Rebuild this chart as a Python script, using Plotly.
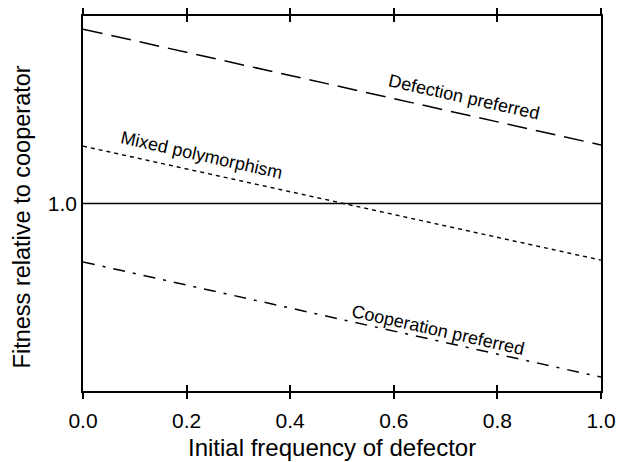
import plotly.graph_objects as go

x_ends = [0.0, 1.0]
defection = [1.465, 1.156]
mixed = [1.153, 0.849]
cooperation = [0.844, 0.537]
baseline = [1.0, 1.0]

x_ticks = [0.0, 0.2, 0.4, 0.6, 0.8, 1.0]
x_ticklabels = ["0.0", "0.2", "0.4", "0.6", "0.8", "1.0"]
y_ticks = [1.0]
y_ticklabels = ["1.0"]

labels = ["Defection preferred", "Mixed polymorphism", "Cooperation preferred"]
label_x = [0.735, 0.228, 0.685]
label_y = [1.284, 1.129, 0.663]

x_title = "Initial frequency of defector"
y_title = "Fitness relative to cooperator"

FONT = "Liberation Sans, Arial, sans-serif"
BODY = 8  # default page body margin

fig = go.Figure()
fig.add_trace(go.Scatter(x=x_ends, y=baseline, mode="lines",
                         line=dict(color="black", width=1.6), showlegend=False))
fig.add_trace(go.Scatter(x=x_ends, y=defection, mode="lines",
                         line=dict(color="black", width=1.5, dash="20px,9px"), showlegend=False))
fig.add_trace(go.Scatter(x=x_ends, y=mixed, mode="lines",
                         line=dict(color="black", width=1.4, dash="4px,4px"), showlegend=False))
fig.add_trace(go.Scatter(x=x_ends, y=cooperation, mode="lines",
                         line=dict(color="black", width=1.5, dash="12px,8px,3px,8px"), showlegend=False))
fig.add_trace(go.Scatter(x=x_ends, y=baseline, mode="lines", xaxis="x2", yaxis="y",
                         line=dict(color="rgba(0,0,0,0)", width=0), showlegend=False, hoverinfo="skip"))

for t, lx, ly in zip(labels, label_x, label_y):
    fig.add_annotation(x=lx, y=ly, text=t, showarrow=False, textangle=12.6,
                       font=dict(family=FONT, size=18, color="black"))

fig.add_annotation(xref="paper", yref="paper", x=0.481, y=-0.152, text=x_title,
                   showarrow=False, xanchor="center", yanchor="middle",
                   font=dict(family=FONT, size=24, color="black"))
fig.add_annotation(xref="paper", yref="paper", x=-0.117, y=0.464, text=y_title,
                   showarrow=False, xanchor="center", yanchor="middle", textangle=-90,
                   font=dict(family=FONT, size=23.5, color="black"))

fig.update_layout(
    width=624 - BODY, height=462 - BODY,
    margin=dict(l=83 - BODY, r=23, t=16 - BODY, b=71, autoexpand=False),
    plot_bgcolor="white", paper_bgcolor="white",
    font=dict(family=FONT, color="black"),
    xaxis=dict(range=[0, 1], tickmode="array", tickvals=x_ticks, ticktext=x_ticklabels,
               showgrid=False, zeroline=False, showline=True, linecolor="black", linewidth=1.6,
               mirror="allticks", ticks="outside", ticklen=6, tickwidth=1.5, tickcolor="black",
               tickfont=dict(size=21), ticklabelstandoff=4),
    xaxis2=dict(range=[0, 1], overlaying="x", anchor="y", side="bottom", tickmode="array",
                tickvals=x_ticks, showticklabels=False, showgrid=False, zeroline=False,
                showline=True, linecolor="black", linewidth=1.6,
                mirror="allticks", ticks="inside", ticklen=6, tickwidth=1.5, tickcolor="black"),
    yaxis=dict(range=[0.5, 1.5], tickmode="array", tickvals=y_ticks, ticktext=y_ticklabels,
               showgrid=False, zeroline=False, showline=True, linecolor="black", linewidth=1.6,
               mirror=True, ticks="", tickfont=dict(size=21)),
)

fig.write_html("out.html")
